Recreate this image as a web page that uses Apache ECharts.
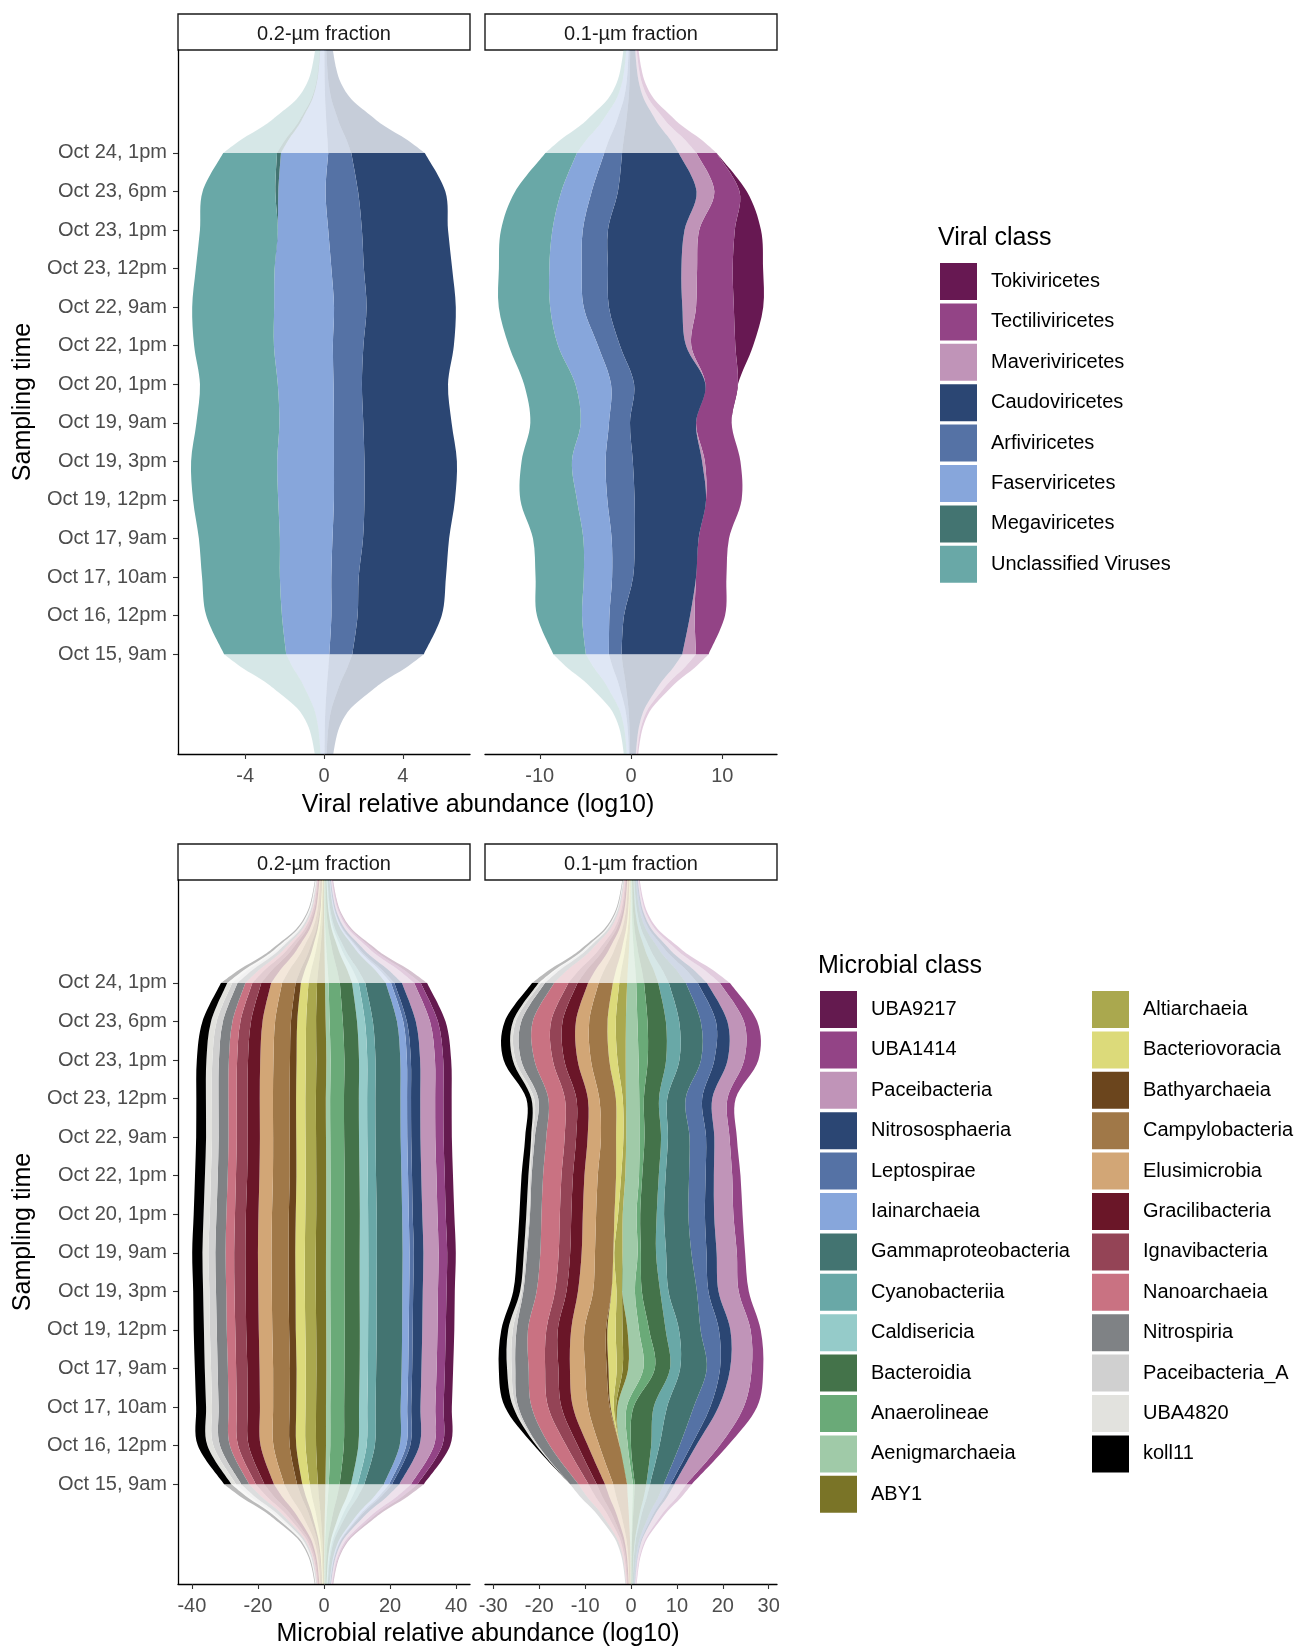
<!DOCTYPE html>
<html>
<head>
<meta charset="utf-8">
<script src="https://cdn.jsdelivr.net/npm/echarts@6/dist/echarts.min.js"></script>
<style>
html, body { margin: 0; background: #fff; }
#chart { width: 1299px; height: 1647px; }
</style>
</head>
<body>
<div id="chart"></div>
<script>
// sampling times, bottom (index 0) to top
const times = ['Oct 15, 9am', 'Oct 16, 12pm', 'Oct 17, 10am', 'Oct 17, 9am', 'Oct 19, 12pm', 'Oct 19, 3pm', 'Oct 19, 9am',
  'Oct 20, 1pm', 'Oct 22, 1pm', 'Oct 22, 9am', 'Oct 23, 12pm', 'Oct 23, 1pm', 'Oct 23, 6pm', 'Oct 24, 1pm'];

// faded tails beyond first / last sample: distance (in rows) and width relative to end row
const tailSteps = [0, 0.35, 0.7, 1.0, 1.4, 1.8, 2.2, 2.8];
const tailShape = [1, 0.82, 0.6, 0.45, 0.27, 0.17, 0.12, 0.08];

const viralClasses = ['Tokiviricetes', 'Tectiliviricetes', 'Maveriviricetes', 'Caudoviricetes', 'Arfiviricetes',
  'Faserviricetes', 'Megaviricetes', 'Unclassified Viruses'];
const viralColors = ['#671852', '#934486', '#c094b8', '#2b4673', '#5572a5', '#87a6db', '#437471', '#69a8a7'];

// one row per class (legend order), 14 values per row (Oct 15 -> Oct 24)
const viral02 = [
  [0, 0, 0, 0, 0, 0, 0, 0, 0, 0, 0, 0, 0, 0],
  [0, 0, 0, 0, 0, 0, 0, 0, 0, 0, 0, 0, 0, 0],
  [0, 0, 0, 0, 0, 0, 0, 0, 0, 0, 0, 0, 0, 0],
  [3.63, 4.27, 4.43, 4.37, 4.59, 4.69, 4.48, 4.37, 4.59, 4.53, 4.48, 4.37, 4.43, 3.73],
  [1.17, 1.33, 1.39, 1.55, 1.55, 1.55, 1.49, 1.44, 1.55, 1.65, 1.65, 1.71, 1.65, 1.17],
  [2.19, 2.51, 2.61, 2.67, 2.83, 2.88, 2.77, 2.83, 2.99, 3.04, 2.88, 2.56, 2.4, 2.4],
  [0, 0, 0, 0, 0, 0, 0, 0, 0, 0, 0, 0, 0.15, 0.2],
  [3.15, 3.84, 3.95, 4.11, 4.32, 4.37, 4.21, 3.95, 4.05, 4.16, 4.0, 3.95, 3.69, 2.73]
];
const viral01 = [
  [0, 0, 0, 0, 0, 0, 0, 0, 1.95, 3.22, 3.33, 2.87, 0.8, 0],
  [1.38, 3.33, 3.33, 3.33, 3.9, 3.9, 3.9, 3.56, 4.83, 4.14, 3.9, 3.9, 2.76, 2.2],
  [1.5, 0.5, 0, 0, 0, 0.3, 0, 0, 0.57, 1.5, 1.72, 1.61, 1.95, 1.95],
  [6.67, 7.24, 6.9, 7.0, 7.82, 7.59, 7.24, 7.82, 7.24, 8.05, 8.05, 8.39, 8.62, 6.2],
  [1.38, 1.6, 2.3, 2.53, 2.99, 2.99, 2.3, 2.53, 2.41, 2.76, 2.87, 2.76, 2.87, 1.95],
  [2.53, 3.0, 3.1, 3.1, 3.33, 3.68, 3.1, 3.9, 4.37, 3.68, 3.56, 3.33, 3.33, 3.0],
  [0, 0, 0, 0, 0, 0, 0, 0, 0, 0, 0, 0, 0, 0],
  [3.56, 4.94, 5.29, 5.52, 6.2, 5.52, 5.52, 5.63, 5.4, 5.63, 5.52, 5.63, 5.06, 3.45]
];

const microClasses = ['UBA9217', 'UBA1414', 'Paceibacteria', 'Nitrososphaeria', 'Leptospirae', 'Iainarchaeia',
  'Gammaproteobacteria', 'Cyanobacteriia', 'Caldisericia', 'Bacteroidia', 'Anaerolineae', 'Aenigmarchaeia', 'ABY1',
  'Altiarchaeia', 'Bacteriovoracia', 'Bathyarchaeia', 'Campylobacteria', 'Elusimicrobia', 'Gracilibacteria',
  'Ignavibacteria', 'Nanoarchaeia', 'Nitrospiria', 'Paceibacteria_A', 'UBA4820', 'koll11'];
const microColors = ['#641a4f', '#934486', '#c094b8', '#2b4673', '#5572a5', '#87a6db', '#437471', '#69a8a7',
  '#95cbc9', '#44734a', '#6aaa78', '#a0caa8', '#7a7427', '#aaa84e', '#dcda7a', '#6b451d', '#a07848', '#d2a676',
  '#6a1628', '#944456', '#c97282', '#7f8285', '#d0d0d0', '#e2e2de', '#000000'];

const micro02 = [
  [1.9, 2.4, 2.5, 2.5, 2.6, 2.5, 2.6, 2.6, 2.5, 2.5, 2.5, 2.4, 2.3, 1.9],
  [2.0, 2.5, 2.5, 2.5, 2.5, 2.6, 2.6, 2.5, 2.5, 2.5, 2.5, 2.5, 2.4, 2.0],
  [3.5, 4.4, 4.5, 4.6, 4.6, 4.6, 4.6, 4.6, 4.6, 4.5, 4.5, 4.5, 4.3, 3.7],
  [2.2, 2.8, 2.8, 2.8, 2.9, 2.9, 2.9, 2.9, 2.8, 2.8, 2.8, 2.8, 2.7, 2.3],
  [0.9, 1.2, 1.2, 1.2, 1.2, 1.2, 1.3, 1.2, 1.2, 1.2, 1.2, 1.2, 1.1, 1.0],
  [1.6, 2.0, 2.0, 2.0, 2.0, 2.1, 2.1, 2.0, 2.0, 2.0, 2.0, 2.0, 1.9, 1.6],
  [5.9, 7.5, 7.6, 7.7, 7.7, 7.8, 7.8, 7.7, 7.7, 7.6, 7.6, 7.5, 7.3, 6.2],
  [2.0, 2.5, 2.5, 2.5, 2.6, 2.5, 2.6, 2.6, 2.5, 2.5, 2.5, 2.5, 2.4, 2.0],
  [2.0, 2.5, 2.5, 2.5, 2.5, 2.6, 2.6, 2.5, 2.5, 2.5, 2.5, 2.5, 2.4, 2.0],
  [3.5, 4.4, 4.5, 4.6, 4.6, 4.6, 4.6, 4.6, 4.5, 4.5, 4.5, 4.4, 4.3, 3.7],
  [3.3, 4.1, 4.2, 4.2, 4.3, 4.3, 4.3, 4.3, 4.3, 4.2, 4.2, 4.2, 4.0, 3.4],
  [1.0, 1.3, 1.3, 1.3, 1.3, 1.3, 1.3, 1.3, 1.3, 1.3, 1.3, 1.3, 1.2, 1.1],
  [2.3, 3.0, 3.0, 3.0, 3.0, 3.1, 3.1, 3.0, 3.0, 3.0, 3.0, 3.0, 2.9, 2.4],
  [2.5, 3.2, 3.2, 3.2, 3.3, 3.3, 3.3, 3.3, 3.2, 3.2, 3.2, 3.2, 3.0, 2.6],
  [2.2, 2.8, 2.8, 2.8, 2.9, 2.8, 2.9, 2.9, 2.8, 2.8, 2.8, 2.8, 2.7, 2.3],
  [1.6, 2.0, 2.0, 2.0, 2.0, 2.1, 2.0, 2.1, 2.0, 2.0, 2.0, 2.0, 1.9, 1.6],
  [3.9, 4.9, 5.0, 5.1, 5.1, 5.1, 5.2, 5.1, 5.1, 5.0, 5.0, 5.0, 4.8, 4.1],
  [3.1, 3.9, 4.0, 4.1, 4.1, 4.1, 4.1, 4.1, 4.1, 4.0, 4.0, 4.0, 3.8, 3.3],
  [2.9, 3.6, 3.7, 3.7, 3.8, 3.8, 3.8, 3.8, 3.7, 3.7, 3.7, 3.7, 3.5, 3.0],
  [2.6, 3.2, 3.3, 3.4, 3.3, 3.4, 3.4, 3.3, 3.4, 3.3, 3.3, 3.3, 3.2, 2.7],
  [2.0, 2.5, 2.5, 2.5, 2.6, 2.5, 2.6, 2.6, 2.5, 2.5, 2.5, 2.5, 2.4, 2.1],
  [2.4, 3.0, 3.0, 3.1, 3.0, 3.1, 3.1, 3.0, 3.0, 3.0, 3.0, 3.0, 2.9, 2.4],
  [1.6, 2.0, 2.0, 2.0, 2.1, 2.0, 2.1, 2.0, 2.1, 2.0, 2.0, 2.0, 1.9, 1.6],
  [1.4, 1.8, 1.8, 1.9, 1.8, 1.9, 1.8, 1.9, 1.8, 1.8, 1.8, 1.8, 1.7, 1.5],
  [2.2, 2.9, 3.0, 3.0, 3.1, 3.0, 3.1, 3.0, 3.0, 3.0, 2.9, 2.9, 2.6, 1.9]
];
const micro01 = [
  [0, 0, 0, 0, 0, 0, 0, 0, 0, 0, 0, 0, 0, 0],
  [1.2, 1.8, 2.9, 2.5, 2.2, 2.2, 1.8, 2.0, 1.8, 1.6, 1.8, 3.1, 2.9, 2.2],
  [2.6, 5.1, 5.5, 4.7, 4.4, 4.4, 4.4, 4.2, 4.0, 3.3, 3.3, 3.6, 3.6, 2.8],
  [0.8, 1.1, 1.8, 2.2, 2.5, 2.2, 2.2, 2.0, 1.8, 1.8, 2.2, 2.9, 2.5, 2.0],
  [1.5, 2.5, 3.6, 2.9, 4.0, 2.5, 3.3, 3.6, 3.6, 3.6, 3.6, 2.9, 3.3, 2.6],
  [0, 0, 0, 0, 0, 0, 0, 0, 0, 0, 0, 0, 0, 0],
  [3.0, 4.4, 5.8, 5.8, 4.7, 6.2, 5.5, 5.3, 5.1, 4.7, 4.0, 4.7, 4.7, 3.7],
  [0.8, 1.8, 2.9, 2.2, 2.9, 1.8, 2.2, 1.6, 1.5, 1.5, 1.8, 2.9, 2.9, 2.3],
  [0, 0, 0, 0, 0, 0, 0, 0, 0, 0, 0, 0, 0, 0],
  [2.5, 4.4, 4.4, 3.3, 3.6, 4.0, 3.3, 3.6, 3.6, 3.6, 3.3, 4.0, 4.0, 3.1],
  [0.4, 0.7, 1.5, 2.5, 2.2, 1.5, 0.7, 0.8, 0.7, 1.1, 1.0, 2.0, 2.2, 1.7],
  [1.3, 1.8, 2.0, 3.3, 2.5, 2.8, 3.3, 3.0, 3.0, 2.9, 2.9, 2.8, 2.5, 2.0],
  [0, 0, 0.3, 1.2, 1.1, 0, 0, 0, 0, 0, 0, 0, 0, 0],
  [0, 0, 0.5, 1.3, 1.5, 1.2, 1.8, 1.0, 0.9, 0.6, 0.7, 1.8, 2.2, 1.7],
  [0, 0, 0.7, 1.8, 1.8, 1.1, 0.2, 0.8, 1.1, 1.6, 1.5, 1.8, 1.8, 1.4],
  [0, 0, 0.2, 0.4, 0.3, 0, 0, 0, 0, 0, 0, 0, 0, 0],
  [3.0, 4.4, 4.7, 4.7, 4.7, 4.0, 4.0, 4.0, 4.0, 3.3, 3.6, 4.0, 4.0, 3.1],
  [1.8, 2.5, 3.3, 3.3, 2.9, 3.3, 2.9, 2.9, 2.9, 2.9, 2.5, 2.9, 2.9, 2.3],
  [1.8, 2.2, 2.5, 2.5, 2.9, 2.5, 2.5, 2.5, 2.5, 2.5, 2.5, 2.9, 2.9, 2.3],
  [1.8, 2.5, 2.9, 2.9, 2.5, 2.5, 2.5, 2.5, 2.5, 2.5, 2.5, 2.5, 2.5, 2.0],
  [2.2, 3.6, 3.6, 3.6, 4.0, 4.0, 4.0, 4.0, 4.0, 4.0, 3.6, 4.0, 4.0, 3.1],
  [1.8, 2.5, 2.9, 2.9, 2.5, 2.9, 2.9, 2.5, 2.5, 2.5, 2.2, 2.9, 2.5, 2.0],
  [0, 0.2, 0.5, 0.8, 0.8, 0.3, 0.3, 0.2, 0.3, 0.5, 0.9, 1.2, 1.2, 0.9],
  [0, 0.2, 0.6, 1.0, 1.0, 0.4, 0.4, 0.6, 0.4, 0.3, 0.6, 0.6, 0.6, 0.5],
  [0, 0.5, 1.8, 1.8, 1.5, 1.5, 1.5, 1.5, 1.5, 1.3, 1.1, 2.0, 1.8, 1.4]
];

const FONT = '"Liberation Sans", Arial, Helvetica, sans-serif';
const PW = 292, PH = 704;
const panels = [
  {strip: '0.2-µm fraction', data: viral02, classes: viralClasses, colors: viralColors, lim: 7.41, ticks: [-4, 0, 4], left: 178, top: 50, first: true},
  {strip: '0.1-µm fraction', data: viral01, classes: viralClasses, colors: viralColors, lim: 16, ticks: [-10, 0, 10], left: 485, top: 50},
  {strip: '0.2-µm fraction', data: micro02, classes: microClasses, colors: microColors, lim: 44.2, ticks: [-40, -20, 0, 20, 40], left: 178, top: 880, first: true},
  {strip: '0.1-µm fraction', data: micro01, classes: microClasses, colors: microColors, lim: 31.8, ticks: [-30, -20, -10, 0, 10, 20, 30], left: 485, top: 880}
];

// stream boundaries for row r, centred on zero; stacked from the last class (left) to the first (right)
function edges(mat, r) {
  let total = 0;
  mat.forEach(s => { total += s[r]; });
  const out = [];
  let acc = -total / 2;
  for (let j = mat.length - 1; j >= 0; j--) {
    out[j] = [acc, acc + mat[j][r]];
    acc += mat[j][r];
  }
  return out;
}

// catmull-rom through pixel points -> svg cubic segments
function curve(pts) {
  let d = '';
  for (let i = 0; i < pts.length - 1; i++) {
    const p0 = pts[i - 1] || pts[i], p1 = pts[i], p2 = pts[i + 1], p3 = pts[i + 2] || pts[i + 1];
    d += ' C' + (p1[0] + (p2[0] - p0[0]) / 6) + ',' + (p1[1] + (p2[1] - p0[1]) / 6) +
      ' ' + (p2[0] - (p3[0] - p1[0]) / 6) + ',' + (p2[1] - (p3[1] - p1[1]) / 6) +
      ' ' + p2[0] + ',' + p2[1];
  }
  return d;
}
function band(L, R) {
  const rr = R.slice().reverse();
  return 'M' + L[0][0] + ',' + L[0][1] + curve(L) + ' L' + rr[0][0] + ',' + rr[0][1] + curve(rr) + ' Z';
}

function makeRender(p, j, color) {
  return function (params, api) {
    const rows = times.map((t, r) => edges(p.data, r)[j]);
    const n = rows.length - 1;
    const L = rows.map((e, r) => api.coord([e[0], r]));
    const R = rows.map((e, r) => api.coord([e[1], r]));
    const tL = tailSteps.map((s, i) => api.coord([rows[n][0] * tailShape[i], n + s]));
    const tR = tailSteps.map((s, i) => api.coord([rows[n][1] * tailShape[i], n + s]));
    const bL = tailSteps.map((s, i) => api.coord([rows[0][0] * tailShape[i], -s]));
    const bR = tailSteps.map((s, i) => api.coord([rows[0][1] * tailShape[i], -s]));
    return {
      type: 'group',
      children: [
        {type: 'path', shape: {pathData: band(L, R)}, style: {fill: color}},
        {type: 'path', shape: {pathData: band(tL, tR)}, style: {fill: color, opacity: 0.27}},
        {type: 'path', shape: {pathData: band(bL, bR)}, style: {fill: color, opacity: 0.27}}
      ]
    };
  };
}

const rowTicks = times.map((t, i) => i);
const grid = [], xAxis = [], yAxis = [], series = [], graphic = [];

panels.forEach((p, i) => {
  grid.push({left: p.left, top: p.top, width: PW, height: PH});
  xAxis.push({
    type: 'value', gridIndex: i, min: -p.lim, max: p.lim,
    axisLine: {show: true, onZero: false, lineStyle: {color: '#000', width: 1.3}},
    axisTick: {show: true, customValues: p.ticks, length: 5, lineStyle: {color: '#333', width: 1.1}},
    axisLabel: {customValues: p.ticks, color: '#4d4d4d', fontSize: 20, margin: 12, fontFamily: FONT},
    splitLine: {show: false}
  });
  yAxis.push({
    type: 'value', gridIndex: i, min: -2.59, max: 15.67,
    name: p.first ? 'Sampling time' : '', nameLocation: 'middle', nameGap: 142, nameRotate: 90,
    nameTextStyle: {fontSize: 25, color: '#000', fontFamily: FONT},
    axisLine: {show: !!p.first, onZero: false, lineStyle: {color: '#000', width: 1.3}},
    axisTick: {show: !!p.first, customValues: rowTicks, length: 5, lineStyle: {color: '#333', width: 1.1}},
    axisLabel: {show: !!p.first, customValues: rowTicks, color: '#4d4d4d', fontSize: 20, margin: 11, fontFamily: FONT,
      formatter: v => times[Math.round(v)]},
    splitLine: {show: false}
  });
  p.classes.forEach((name, j) => {
    series.push({
      type: 'custom', name: name, xAxisIndex: i, yAxisIndex: i,
      coordinateSystem: 'cartesian2d', clip: true, silent: true,
      itemStyle: {color: p.colors[j]},
      data: [[0, 6]],
      renderItem: makeRender(p, j, p.colors[j])
    });
  });
  graphic.push({
    type: 'rect', shape: {x: p.left, y: p.top - 36, width: PW, height: 36},
    style: {fill: '#fff', stroke: '#1a1a1a', lineWidth: 1.4}
  });
  graphic.push({
    type: 'text', x: p.left + PW / 2, y: p.top - 16,
    style: {text: p.strip, fill: '#1a1a1a', fontSize: 20, fontFamily: FONT, align: 'center', verticalAlign: 'middle'}
  });
});

graphic.push(
  {type: 'text', x: 478, y: 805, style: {text: 'Viral relative abundance (log10)', fill: '#000', fontSize: 25, fontFamily: FONT, align: 'center', verticalAlign: 'middle'}},
  {type: 'text', x: 478, y: 1634, style: {text: 'Microbial relative abundance (log10)', fill: '#000', fontSize: 25, fontFamily: FONT, align: 'center', verticalAlign: 'middle'}},
  {type: 'text', x: 938, y: 238, style: {text: 'Viral class', fill: '#000', fontSize: 25, fontFamily: FONT, align: 'left', verticalAlign: 'middle'}},
  {type: 'text', x: 818, y: 966, style: {text: 'Microbial class', fill: '#000', fontSize: 25, fontFamily: FONT, align: 'left', verticalAlign: 'middle'}}
);

const legendBase = {
  orient: 'vertical', icon: 'rect', itemWidth: 37, itemHeight: 37, itemGap: 3.4,
  selectedMode: false, padding: 0,
  textStyle: {fontSize: 20, color: '#000', fontFamily: FONT, padding: [2, 0, 0, 9]}
};

const option = {
  animation: false,
  backgroundColor: '#fff',
  textStyle: {fontFamily: FONT},
  grid: grid,
  xAxis: xAxis,
  yAxis: yAxis,
  legend: [
    Object.assign({}, legendBase, {left: 940, top: 263, data: viralClasses}),
    Object.assign({}, legendBase, {left: 820, top: 991, data: microClasses.slice(0, 13)}),
    Object.assign({}, legendBase, {left: 1092, top: 991, data: microClasses.slice(13)})
  ],
  graphic: graphic,
  series: series
};

const chart = echarts.init(document.getElementById('chart'));
chart.setOption(option);
</script>
</body>
</html>
